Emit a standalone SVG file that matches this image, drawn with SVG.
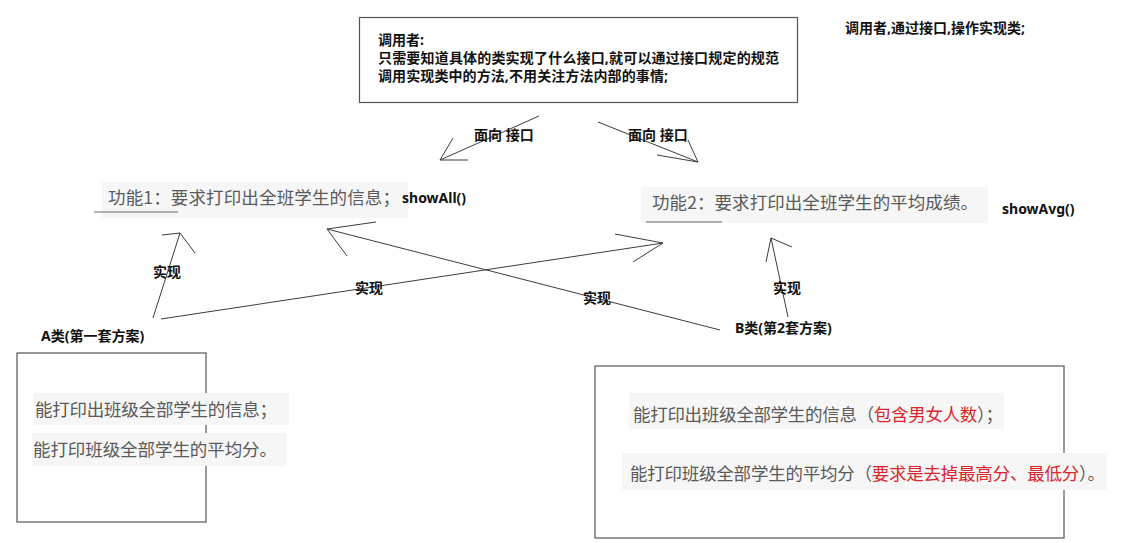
<svg xmlns="http://www.w3.org/2000/svg" width="1138" height="543" viewBox="0 0 1138 543">
<style>
.bg{fill:#ffffff}
.box{fill:#ffffff;stroke:#555555;stroke-width:1.2}
.b{font-family:"Noto Sans","Noto Sans CJK SC",sans-serif;font-weight:bold;font-size:14px;fill:#111111}
.g{font-family:"Noto Sans CJK SC","Noto Sans CJK JP",sans-serif;font-size:17.5px;fill:#5a5a5a}
.r{fill:#d9252b}
.hl{fill:#f6f6f6}
.ul{stroke:#666666;stroke-width:1.2}
.c{fill:none;stroke:#3c3c3c;stroke-width:1}
</style>
<rect class="bg" x="0" y="0" width="1138" height="543"/>

<g id="caller">
  <rect class="box" x="359.5" y="17.5" width="438" height="85"/>
  <text class="b" x="378" y="45">调用者:</text>
  <text class="b" x="378" y="63" textLength="401" lengthAdjust="spacing">只需要知道具体的类实现了什么接口,就可以通过接口规定的规范</text>
  <text class="b" x="378" y="81" textLength="290" lengthAdjust="spacing">调用实现类中的方法,不用关注方法内部的事情;</text>
</g>

<g id="note">
  <text class="b" x="845" y="33">调用者,通过接口,操作实现类;</text>
</g>

<g id="func1">
  <rect class="hl" x="102" y="182" width="306" height="36"/>
  <text class="g" x="108" y="204" textLength="292" lengthAdjust="spacing">功能1：要求打印出全班学生的信息；</text>
  <line class="ul" x1="94" y1="212" x2="178" y2="212"/>
  <text class="b" x="402" y="203">showAll()</text>
</g>

<g id="func2">
  <rect class="hl" x="641" y="187" width="347" height="36"/>
  <text class="g" x="652" y="209" textLength="326" lengthAdjust="spacing">功能2：要求打印出全班学生的平均成绩。</text>
  <line class="ul" x1="646" y1="222" x2="722" y2="222"/>
  <text class="b" x="1002" y="214">showAvg()</text>
</g>

<g id="classA">
  <text class="b" x="41" y="341">A类(第一套方案)</text>
  <rect class="box" x="17" y="353" width="189" height="169"/>
  <rect class="hl" x="34" y="393" width="255" height="32"/>
  <text class="g" x="35" y="416" textLength="242" lengthAdjust="spacing">能打印出班级全部学生的信息；</text>
  <rect class="hl" x="32" y="433" width="254" height="33"/>
  <text class="g" x="33" y="456" textLength="244" lengthAdjust="spacing">能打印班级全部学生的平均分。</text>
</g>

<g id="classB">
  <text class="b" x="735" y="333">B类(第2套方案)</text>
  <rect class="box" x="595" y="366" width="469" height="172"/>
  <rect class="hl" x="629" y="393" width="375" height="36"/>
  <text class="g" x="633" y="421" textLength="370" lengthAdjust="spacing">能打印出班级全部学生的信息（<tspan class="r">包含男女人数</tspan>）；</text>
  <rect class="hl" x="622" y="453" width="485" height="37"/>
  <text class="g" x="630" y="480" textLength="475" lengthAdjust="spacing">能打印班级全部学生的平均分（<tspan class="r">要求是去掉最高分、最低分</tspan>）。</text>
</g>

<g id="connectors">
  <line class="c" x1="539" y1="116" x2="440" y2="160"/>
  <polyline class="c" points="453,138 440,160 468,160"/>
  <text class="b" x="474" y="140">面向 接口</text>
  <line class="c" x1="598" y1="122" x2="698" y2="162"/>
  <polyline class="c" points="688,140 698,162 657,155"/>
  <text class="b" x="628" y="140">面向 接口</text>
  <line class="c" x1="153" y1="318" x2="180" y2="233"/>
  <polyline class="c" points="162,235 180,233 195,253"/>
  <text class="b" x="153" y="277">实现</text>
  <line class="c" x1="161" y1="319" x2="663" y2="243"/>
  <polyline class="c" points="615,234 663,243 633,262"/>
  <text class="b" x="355" y="293">实现</text>
  <line class="c" x1="720" y1="330" x2="327" y2="229"/>
  <polyline class="c" points="376,222 327,229 347,256"/>
  <text class="b" x="583" y="303">实现</text>
  <line class="c" x1="788" y1="317" x2="771" y2="238"/>
  <polyline class="c" points="766,262 771,238 792,247"/>
  <text class="b" x="773" y="293">实现</text>
</g>
</svg>
